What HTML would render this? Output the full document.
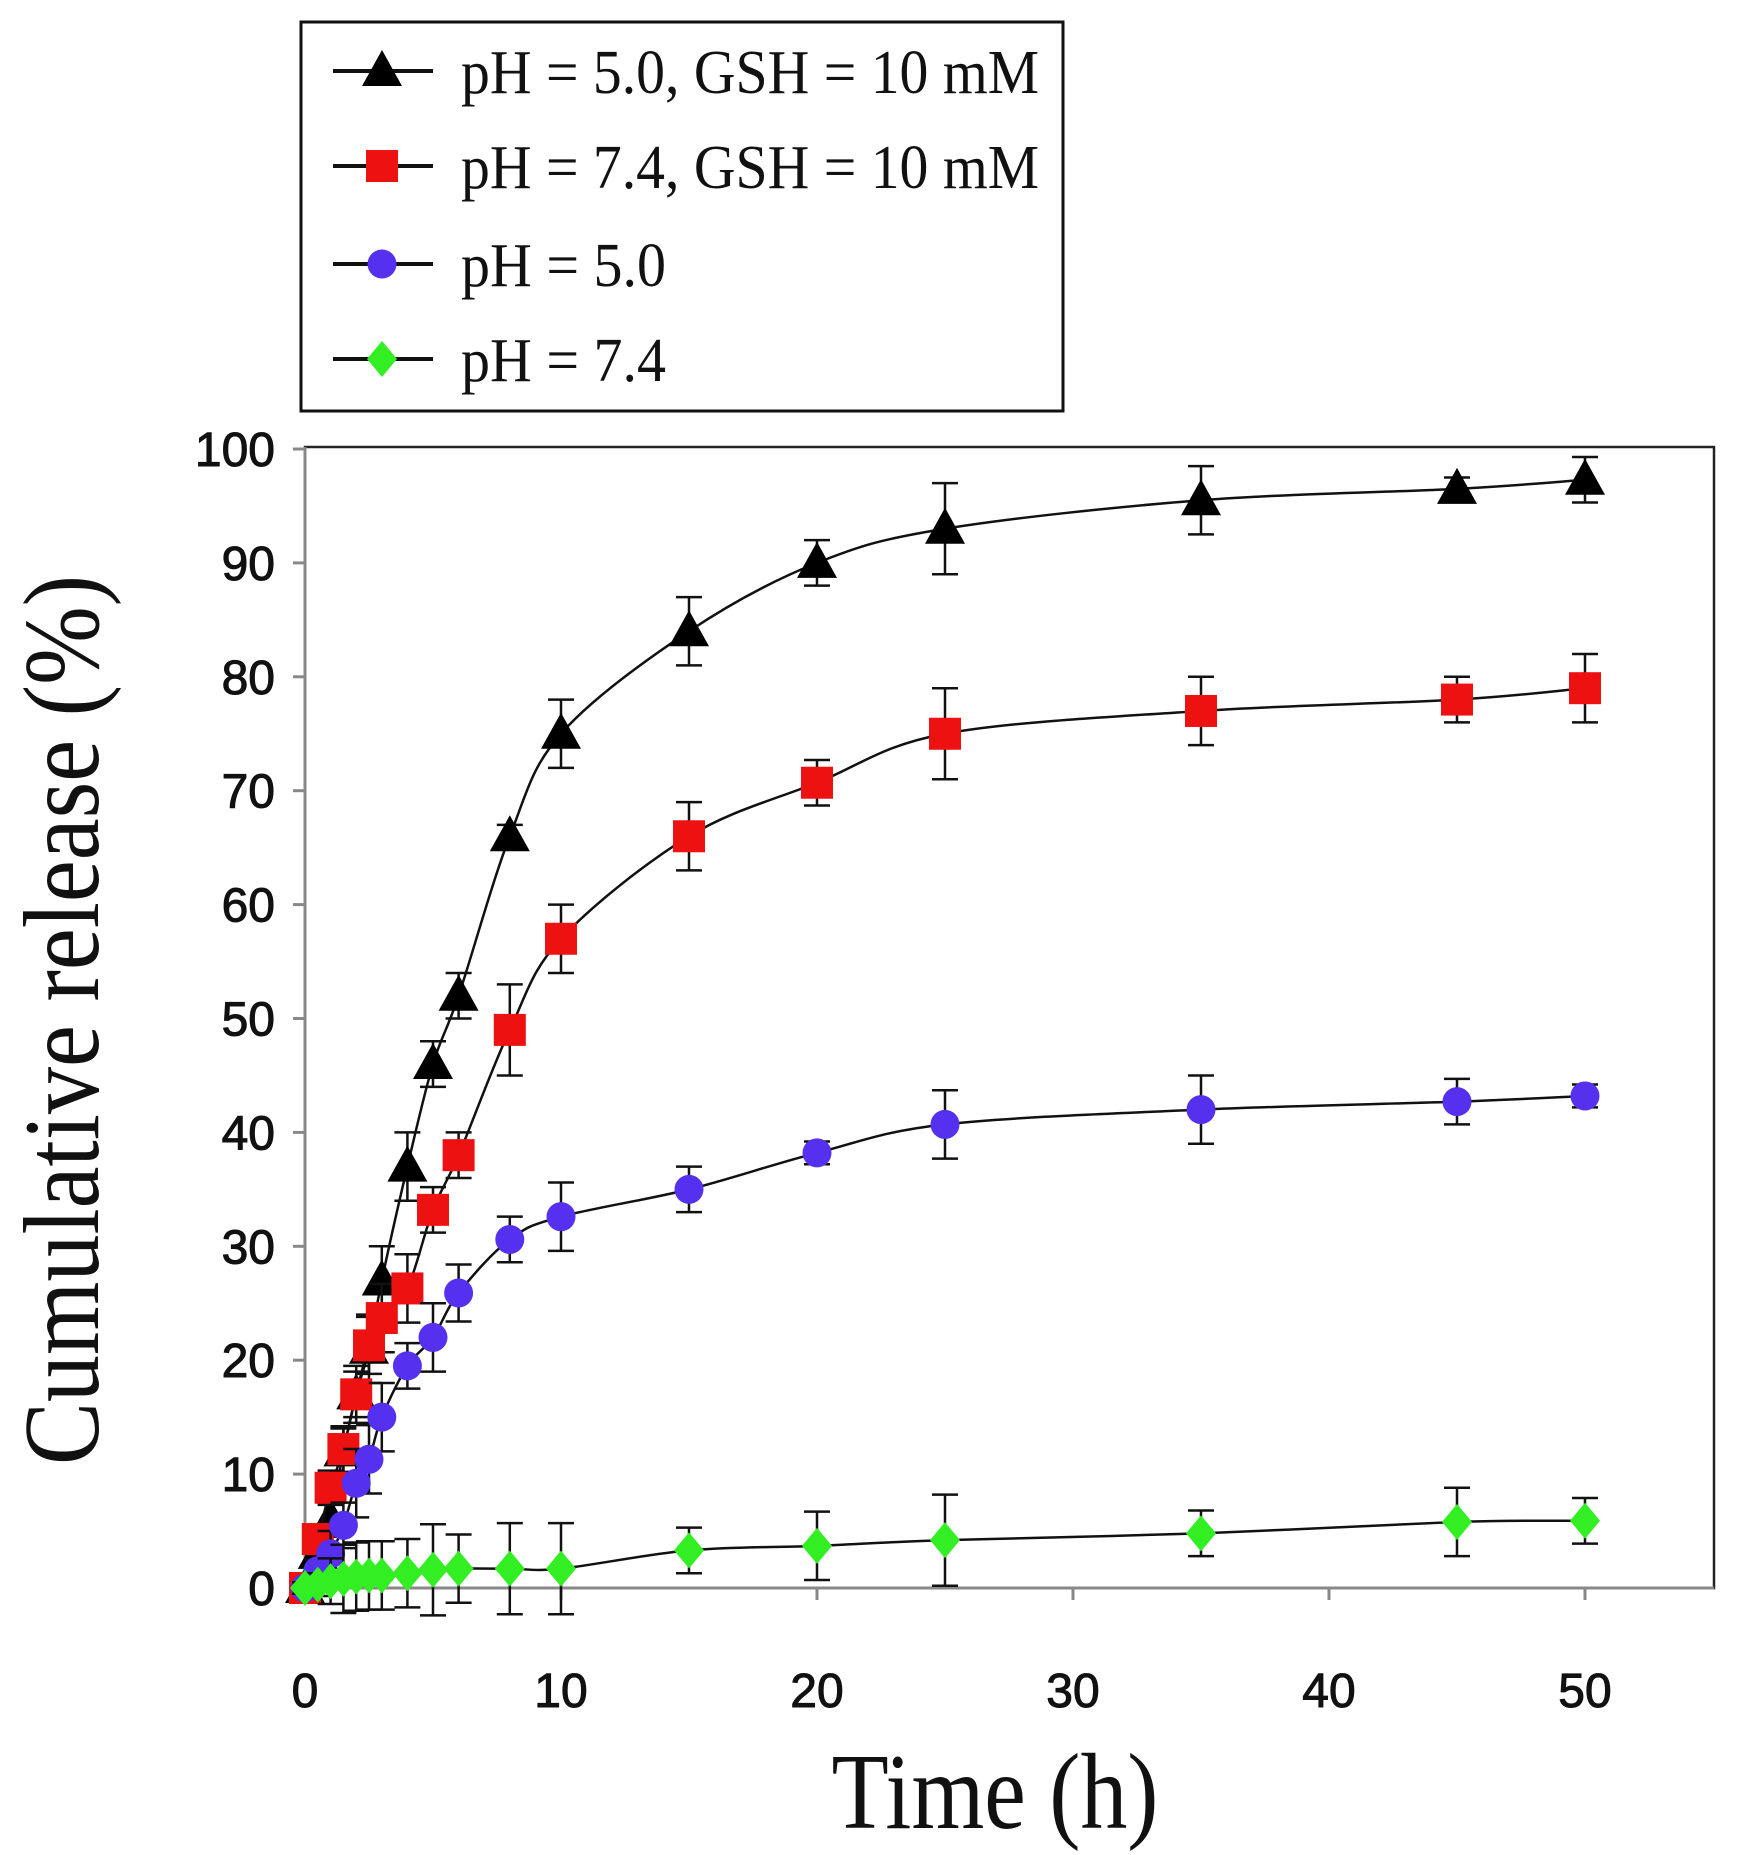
<!DOCTYPE html>
<html><head><meta charset="utf-8"><style>body{margin:0;background:#fff}svg{display:block}</style></head>
<body>
<svg id="chart" width="1741" height="1855" viewBox="0 0 1741 1855" xmlns="http://www.w3.org/2000/svg">
<rect x="0" y="0" width="1741" height="1855" fill="#fff"/>
<g id="plot"></g>
<g id="legend"></g>
</svg>
<script>
const xs = [0,0.5,1,1.5,2,2.5,3,4,5,6,8,10,15,20,25,35,45,50];
const blackY = [0,3,6,12,17,21,27,37,46,52,66,75,84,90,93,95.5,96.5,97.3];
const blackE = [0.5,1,1.5,2,2.5,3,3,3,2,2,1,3,3,2,4,3,1,2];
const redY = [0,4.3,8.8,12.2,17,21.3,23.7,26.3,33.2,38,49,57,66,70.7,75,77,78,79];
const redE = [0.5,1,1.5,2,2,2.5,3,3,2,2,4,3,3,2,4,3,2,3];
const blueY = [0,1.5,3,5.5,9.2,11.3,15,19.5,22,25.9,30.6,32.6,35,38.2,40.7,42,42.7,43.2];
const blueE = [0.5,1,2,2,3,3,3,2,3,2.5,2,3,2,1,3,3,2,1];
const greenY = [0,0.3,0.6,0.8,1,1.1,1.1,1.3,1.6,1.7,1.7,1.7,3.3,3.7,4.2,4.8,5.8,5.9];
const greenE = [0.5,1,2,3,3,3,3,3,4,3,4,4,2,3,4,2,3,2];
const xTicks = [0,10,20,30,40,50];
const yTicks = [0,10,20,30,40,50,60,70,80,90,100];
const legendLabels = ["pH = 5.0, GSH = 10 mM","pH = 7.4, GSH = 10 mM","pH = 5.0","pH = 7.4"];

const NS="http://www.w3.org/2000/svg";
const L=305,R=1714,T=447,B=1588;
const X=v=>305+v*(1585-305)/50;
const Y=v=>1588-v*(1588-449)/100;
const plot=document.getElementById('plot');
function mk(tag,attrs,parent){const e=document.createElementNS(NS,tag);for(const k in attrs)e.setAttribute(k,attrs[k]);(parent||plot).appendChild(e);return e;}

let frame=mk('rect',{x:L,y:T,width:R-L,height:B-T,fill:'none',stroke:'#222','stroke-width':2.5});


mk('line',{x1:L,y1:T,x2:L,y2:B,stroke:'#888','stroke-width':3});
mk('line',{x1:L,y1:B,x2:R,y2:B,stroke:'#888','stroke-width':3});
yTicks.forEach(v=>{
  mk('line',{x1:L-12,y1:Y(v),x2:L,y2:Y(v),stroke:'#888','stroke-width':3});
  const t=mk('text',{x:L-30,y:Y(v)+17,'text-anchor':'end','font-family':'Liberation Sans, sans-serif','font-size':48,fill:'#111',stroke:'#111','stroke-width':1});
  t.textContent=v;
  
  
});
xTicks.forEach(v=>{
  mk('line',{x1:X(v),y1:B,x2:X(v),y2:B+12,stroke:'#888','stroke-width':3});
  const t=mk('text',{x:X(v),y:1707,'text-anchor':'middle','font-family':'Liberation Sans, sans-serif','font-size':48,fill:'#111',stroke:'#111','stroke-width':1});
  t.textContent=v;
  
  
});
let yt=mk('text',{transform:'translate(98,1020) rotate(-90)','text-anchor':'middle','font-family':'Liberation Serif, serif','font-size':108,textLength:890,lengthAdjust:'spacingAndGlyphs',fill:'#111'});
yt.textContent='Cumulative release (%)';


let xt=mk('text',{x:995,y:1828,'text-anchor':'middle','font-family':'Liberation Serif, serif','font-size':108,textLength:327,lengthAdjust:'spacingAndGlyphs',fill:'#111'});
xt.textContent='Time (h)';



function smooth(pts){let d='M'+pts[0][0]+','+pts[0][1];for(let i=0;i<pts.length-1;i++){const p0=pts[Math.max(i-1,0)],p1=pts[i],p2=pts[i+1],p3=pts[Math.min(i+2,pts.length-1)];const c1=[p1[0]+(p2[0]-p0[0])/6,p1[1]+(p2[1]-p0[1])/6],c2=[p2[0]-(p3[0]-p1[0])/6,p2[1]-(p3[1]-p1[1])/6];d+=' C'+c1+' '+c2+' '+p2;}return d;}
function marker(shape,color,cx,cy,parent){
  if(shape==='tri') return mk('polygon',{points:`${cx},${cy-21} ${cx-20},${cy+15} ${cx+20},${cy+15}`,fill:color},parent);
  if(shape==='sq') return mk('rect',{x:cx-16,y:cy-16,width:32,height:32,fill:color},parent);
  if(shape==='circ') return mk('circle',{cx:cx,cy:cy,r:14.5,fill:color},parent);
  return mk('polygon',{points:`${cx},${cy-18} ${cx+15},${cy} ${cx},${cy+18} ${cx-15},${cy}`,fill:color},parent);
}
const series=[
 {name:'ph50-gsh',y:blackY,e:blackE,shape:'tri',color:'#000'},
 {name:'ph74-gsh',y:redY,e:redE,shape:'sq',color:'#ee1111'},
 {name:'ph50',y:blueY,e:blueE,shape:'circ',color:'#5530ee'},
 {name:'ph74',y:greenY,e:greenE,shape:'dia',color:'#33ee22'}
];
series.forEach(s=>{
  const g=mk('g',{});
  
  
  const pts=xs.map((x,i)=>[X(x),Y(s.y[i])]);
  mk('path',{d:smooth(pts),fill:'none',stroke:'#111','stroke-width':2.5},g);
  xs.forEach((x,i)=>{
    const cx=X(x),y1=Y(s.y[i]+s.e[i]),y2=Y(s.y[i]-s.e[i]);
    mk('path',{d:`M${cx},${y1}V${y2}M${cx-13},${y1}H${cx+13}M${cx-13},${y2}H${cx+13}`,stroke:'#111','stroke-width':2.5,fill:'none'},g);
  });
  xs.forEach((x,i)=>{
    const m=marker(s.shape,s.color,X(x),Y(s.y[i]),g);
    
    
  });
});

const lg=document.getElementById('legend');
mk('rect',{x:301,y:22,width:762,height:389,fill:'#fff',stroke:'#111','stroke-width':3},lg);
const lshapes=[['tri','#000'],['sq','#ee1111'],['circ','#5530ee'],['dia','#33ee22']];
const ly=[71,166,264,359];
legendLabels.forEach((lab,i)=>{
  const g=mk('g',{},lg);
  
  
  mk('line',{x1:333,y1:ly[i],x2:433,y2:ly[i],stroke:'#111','stroke-width':4},g);
  marker(lshapes[i][0],lshapes[i][1],382,ly[i],g);
  const t=mk('text',{x:461,y:ly[i]+22,'font-family':'Liberation Serif, serif','font-size':62,fill:'#111'},g);
  if(i<2){t.setAttribute('textLength',578);t.setAttribute('lengthAdjust','spacingAndGlyphs');}
  else{t.setAttribute('textLength',205);t.setAttribute('lengthAdjust','spacingAndGlyphs');}
  t.textContent=lab;
});
</script>
</body></html>
